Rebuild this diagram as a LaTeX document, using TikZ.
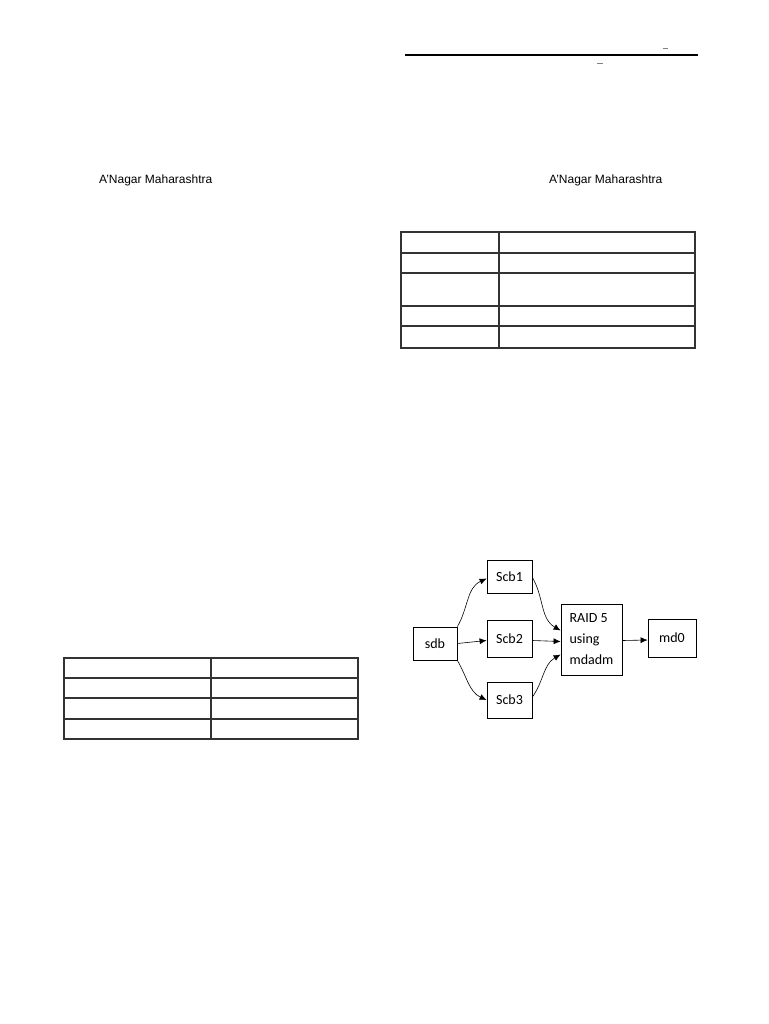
\documentclass[tikz,border=0pt]{standalone}
\usepackage{fontspec}
\setmainfont{Liberation Sans}
\newfontfamily\calibri{Carlito}
\usetikzlibrary{arrows.meta}
\begin{document}
\begin{tikzpicture}[x=1pt,y=-1pt,
    box/.style={draw, line width=0.8pt, rectangle, inner sep=0pt,
      font=\calibri\fontsize{14}{21}\selectfont},
    arr/.style={-{Latex[length=7pt,width=6pt]}, line width=0.6pt},
    tbl/.style={line width=1.3pt, draw=black!80},
    place/.style={anchor=base west, inner sep=0pt, font=\fontsize{12}{14}\selectfont}]
    \useasboundingbox (0,0) rectangle (768,1024);
    % Vẽ đường kẻ trên cùng
    \draw[line width=1.3pt] (405,55) -- (698,55);
    \draw[gray, line width=1pt] (663,49) -- (668,49);
    \draw[gray, line width=1pt] (597,64) -- (603,64);

    % Địa danh
    \node[place] (placeL) at (99,183.5) {A’Nagar Maharashtra};
    \node[place] (placeR) at (549,183.5) {A’Nagar Maharashtra};

    % Bảng bên phải
    \draw[tbl] (401,232) rectangle (695,348);
    \draw[tbl] (499,232) -- (499,348);
    \foreach \y in {253,273,306,326}
    \draw[tbl] (401,\y) -- (695,\y);

    % Bảng bên trái
    \draw[tbl] (64,658) rectangle (358,739);
    \draw[tbl] (211,658) -- (211,739);
    \foreach \y in {678,698,719}
    \draw[tbl] (64,\y) -- (358,\y);

    % Các khối của sơ đồ
    \node[box, minimum width=44pt, minimum height=33pt] (sdb) at (435,643.5) {sdb};
    \node[box, minimum width=45pt, minimum height=33pt] (scb1) at (509.5,576.5) {Scb1};
    \node[box, minimum width=45pt, minimum height=37pt] (scb2) at (509.5,638.5) {Scb2};
    \node[box, minimum width=45pt, minimum height=36pt] (scb3) at (509.5,700) {Scb3};
    \node[box, minimum width=61pt, minimum height=71pt, align=left] (raid) at (591.5,639.5) {RAID 5\\using\\mdadm};
    \node[box, minimum width=48pt, minimum height=38pt] (md0) at (672,638) {md0};

    % Các mũi tên
    \draw[arr] (sdb.north east) to[out=60,in=205] ([yshift=-2pt]scb1.west);
    \draw[arr] (sdb.east) -- ([yshift=-2pt]scb2.west);
    \draw[arr] (sdb.south east) to[out=-60,in=155] (scb3.west);
    \draw[arr] ([yshift=-1pt]scb1.east) to[out=-60,in=150] ([yshift=9pt]raid.west);
    \draw[arr] ([yshift=-2pt]scb2.east) -- ([yshift=-2pt]raid.west);
    \draw[arr] ([yshift=3pt]scb3.east) to[out=55,in=-150] ([yshift=-15pt]raid.west);
    \draw[arr] ([yshift=-1pt]raid.east) -- ([yshift=-2pt]md0.west);
\end{tikzpicture}
\end{document}
